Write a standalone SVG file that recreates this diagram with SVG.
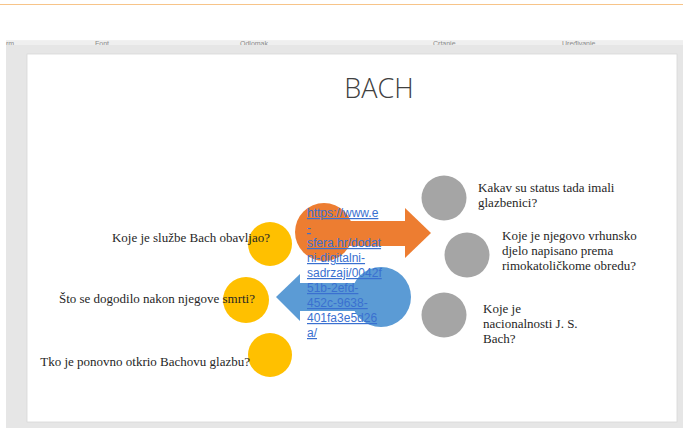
<svg xmlns="http://www.w3.org/2000/svg" width="683" height="428" viewBox="0 0 683 428">
  <defs>
    <style>
      .q { font-family: "Liberation Serif", "Times New Roman", serif; font-size: 13px; fill: #262626; }
      .qe { text-anchor: end; }
      .lnk { font-family: "Liberation Sans", Arial, sans-serif; font-size: 12px; fill: #3a70d0; text-decoration: underline; }
      .tb { font-family: "Liberation Sans", Arial, sans-serif; font-size: 7px; fill: #8a8a8a; }
      .yel { fill: #ffc000; }
      .gry { fill: #a5a5a5; }
    </style>
    <clipPath id="tbclip"><rect x="0" y="40.5" width="683" height="4.5"/></clipPath>
  </defs>

  <!-- window chrome -->
  <rect x="0" y="0" width="683" height="428" fill="#ffffff"/>
  <line x1="0" y1="4.5" x2="683" y2="4.5" stroke="#f7c489" stroke-width="1.2"/>
  <rect x="6" y="40.5" width="677" height="387.5" fill="#e6e6e6"/>
  <rect x="6" y="40.5" width="677" height="4.5" fill="#efefef"/>
  <g clip-path="url(#tbclip)">
    <text class="tb" x="6" y="46">rm</text>
    <text class="tb" x="95" y="46">Font</text>
    <text class="tb" x="240" y="46">Odlomak</text>
    <text class="tb" x="433" y="46">Crtanje</text>
    <text class="tb" x="562" y="46">Uređivanje</text>
  </g>

  <!-- slide -->
  <rect x="27" y="54" width="650" height="368" fill="#ffffff" stroke="#d8d8d8" stroke-width="0.8"/>

  <text x="379" y="98" text-anchor="middle" font-family="'Open Sans', 'Liberation Sans', sans-serif" font-weight="300" font-size="27" fill="#404040">BACH</text>

  <!-- connectors (arrows) -->
  <g id="connectors">
    <g id="arrow-right">
      <circle cx="324" cy="232" r="29" fill="#ed7d31"/>
      <rect x="324" y="221" width="82" height="25" fill="#ed7d31"/>
      <polygon points="405,208 431,233 405,258" fill="#ed7d31"/>
    </g>
    <g id="arrow-left">
      <circle cx="381" cy="297" r="30" fill="#5b9bd5"/>
      <rect x="299" y="283" width="82" height="28" fill="#5b9bd5"/>
      <polygon points="300,274 276,297 300,321" fill="#5b9bd5"/>
    </g>
  </g>

  <!-- yellow circles (left) -->
  <g id="node-y1">
    <circle class="yel" cx="270" cy="244" r="22"/>
    <text class="q qe" x="270" y="242">Koje je službe Bach obavljao?</text>
  </g>
  <g id="node-y2">
    <circle class="yel" cx="246" cy="300" r="23"/>
    <text class="q qe" x="255" y="303">Što se dogodilo nakon njegove smrti?</text>
  </g>
  <g id="node-y3">
    <circle class="yel" cx="270" cy="355" r="22"/>
    <text class="q qe" x="250" y="366">Tko je ponovno otkrio Bachovu glazbu?</text>
  </g>

  <!-- gray circles (right) -->
  <g id="node-g1">
    <circle class="gry" cx="444" cy="198" r="22.5"/>
    <text class="q" x="478" y="192">Kakav su status tada imali</text>
    <text class="q" x="478" y="207">glazbenici?</text>
  </g>
  <g id="node-g2">
    <circle class="gry" cx="467" cy="255" r="22.5"/>
    <text class="q" x="502" y="240">Koje je njegovo vrhunsko</text>
    <text class="q" x="502" y="255">djelo napisano prema</text>
    <text class="q" x="502" y="270">rimokatoličkome obredu?</text>
  </g>
  <g id="node-g3">
    <circle class="gry" cx="444" cy="315" r="22.5"/>
    <text class="q" x="483" y="313">Koje je</text>
    <text class="q" x="483" y="328">nacionalnosti J. S.</text>
    <text class="q" x="483" y="343">Bach?</text>
  </g>

  <!-- hyperlink -->
  <g id="link">
    <text class="lnk" x="307" y="217">https://www.e</text>
    <text class="lnk" x="307" y="232">-</text>
    <text class="lnk" x="307" y="247">sfera.hr/dodat</text>
    <text class="lnk" x="307" y="262">ni-digitalni-</text>
    <text class="lnk" x="307" y="277">sadrzaji/0042f</text>
    <text class="lnk" x="307" y="292">51b-2efd-</text>
    <text class="lnk" x="307" y="307">452c-9638-</text>
    <text class="lnk" x="307" y="322">401fa3e5d26</text>
    <text class="lnk" x="307" y="337">a/</text>
  </g>
</svg>
